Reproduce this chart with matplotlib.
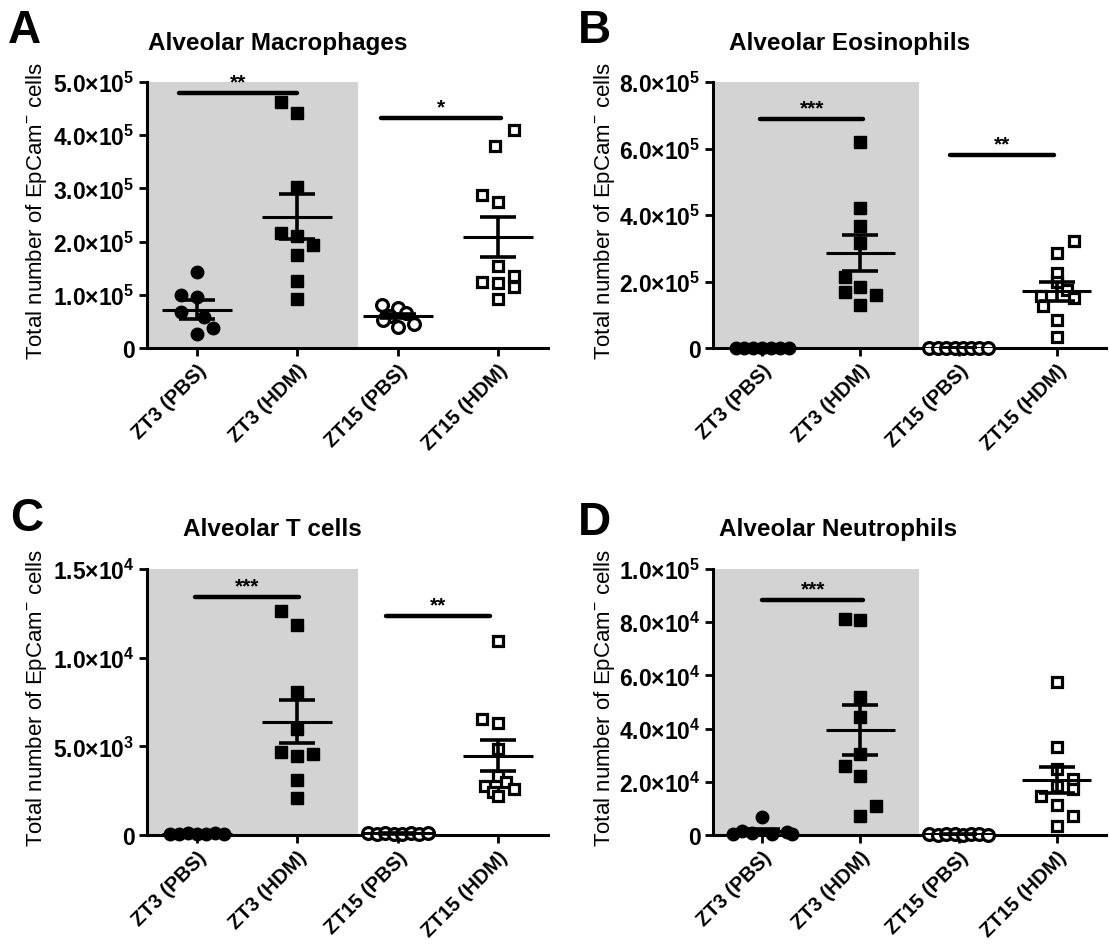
import numpy as np
import matplotlib
matplotlib.use('Agg')
import matplotlib.pyplot as plt
import matplotlib.transforms as mtransforms

plt.rcParams['font.family'] = ['Liberation Sans', 'DejaVu Sans']
plt.rcParams['mathtext.fontset'] = 'custom'
plt.rcParams['mathtext.rm'] = 'Liberation Sans'
plt.rcParams['mathtext.bf'] = 'Liberation Sans:bold'

# Group labels
groups = ['ZT3 (PBS)', 'ZT3 (HDM)', 'ZT15 (PBS)', 'ZT15 (HDM)']

# Panel A - alveolar macrophages (x 1e5)
a_zt3_pbs = [1.43, 1.00, 0.95, 0.67, 0.58, 0.37, 0.26]
a_zt3_hdm = [4.62, 4.42, 3.02, 2.17, 2.10, 1.94, 1.75, 1.26, 0.92]
a_zt15_pbs = [0.80, 0.76, 0.65, 0.60, 0.53, 0.45, 0.40]
a_zt15_hdm = [4.10, 3.80, 2.88, 2.75, 1.55, 1.35, 1.25, 1.23, 1.14, 0.92]
a_mean = [0.72, 2.47, 0.60, 2.09]
a_sem = [0.18, 0.43, 0.04, 0.375]

# Panel B - alveolar eosinophils (x 1e5)
b_zt3_pbs = [0.008, 0.004, 0.006, 0.003, 0.005, 0.007, 0.004]
b_zt3_hdm = [6.21, 4.20, 3.66, 3.16, 2.13, 1.83, 1.68, 1.60, 1.30]
b_zt15_pbs = [0.005, 0.003, 0.006, 0.004, 0.002, 0.005, 0.004, 0.003]
b_zt15_hdm = [3.21, 2.86, 2.25, 1.98, 1.73, 1.56, 1.50, 1.26, 0.83, 0.34]
b_mean = [0.005, 2.86, 0.004, 1.71]
b_sem = [0.001, 0.54, 0.001, 0.29]

# Panel C - alveolar T cells (x 1e3)
c_zt3_pbs = [0.08, 0.05, 0.10, 0.04, 0.06, 0.09, 0.07]
c_zt3_hdm = [12.62, 11.86, 8.08, 5.98, 4.70, 4.57, 4.47, 3.12, 2.07]
c_zt15_pbs = [0.10, 0.06, 0.12, 0.08, 0.05, 0.09, 0.07, 0.11]
c_zt15_hdm = [10.96, 6.54, 6.32, 4.85, 3.34, 3.00, 2.78, 2.59, 2.40, 2.18]
c_mean = [0.07, 6.39, 0.09, 4.47]
c_sem = [0.01, 1.22, 0.01, 0.88]

# Panel D - alveolar neutrophils (x 1e4)
d_zt3_pbs = [0.67, 0.15, 0.10, 0.06, 0.04, 0.03, 0.02]
d_zt3_hdm = [8.12, 8.09, 5.18, 4.42, 3.05, 2.58, 2.23, 1.08, 0.73]
d_zt15_pbs = [0.02, 0.01, 0.03, 0.02, 0.01, 0.02, 0.03, 0.01]
d_zt15_hdm = [5.74, 3.30, 2.48, 2.10, 1.85, 1.73, 1.45, 1.13, 0.70, 0.35]
d_mean = [0.15, 3.95, 0.02, 2.08]
d_sem = [0.09, 0.94, 0.005, 0.49]

# significance bars: (x start, x end, height, stars)
a_sig = [(-0.18, 1.0, 4.79, '**'), (1.83, 3.03, 4.32, '*')]
b_sig = [(-0.02, 1.03, 6.9, '***'), (1.91, 2.97, 5.81, '**')]
c_sig = [(-0.02, 1.02, 13.4, '***'), (1.88, 2.92, 12.37, '**')]
d_sig = [(0.0, 1.03, 8.85, '***')]

# horizontal spread of points within a group (layout only)
a_off = [[0, -0.16, 0, -0.16, 0.07, 0.16, 0],
         [-0.16, 0, 0, -0.16, 0, 0.16, 0, 0, 0],
         [-0.16, 0, 0.08, -0.08, -0.15, 0.16, 0],
         [0.16, -0.03, -0.16, 0, 0, 0.16, -0.16, 0, 0.16, 0]]
b_off = [[-0.27, -0.18, -0.09, 0, 0.09, 0.18, 0.27],
         [0, 0, 0, 0, -0.16, 0, -0.16, 0.16, 0],
         [-0.3, -0.21, -0.13, -0.04, 0.04, 0.13, 0.21, 0.3],
         [0.17, 0, 0, 0, 0.1, -0.16, 0.17, -0.14, 0, 0]]
c_off = [[-0.27, -0.18, -0.09, 0, 0.09, 0.18, 0.27],
         [-0.16, 0, 0, 0, -0.16, 0.16, 0, 0, 0],
         [-0.3, -0.21, -0.13, -0.04, 0.04, 0.13, 0.21, 0.3],
         [0, -0.16, 0, 0, 0, 0.08, -0.13, 0.16, -0.05, 0]]
d_off = [[0, -0.2, 0.25, -0.1, 0.1, -0.3, 0.3],
         [-0.16, 0, 0, 0, 0, -0.16, 0, 0.16, 0],
         [-0.3, -0.21, -0.13, -0.04, 0.04, 0.13, 0.21, 0.3],
         [0, 0, 0, 0.16, 0, 0.16, -0.16, 0, 0.16, 0]]

W, H = 1109, 945
fig = plt.figure(figsize=(W / 100, H / 100), dpi=100)


def fmt_tick(v):
    if v == 0:
        return '0'
    e = int(np.floor(np.log10(v) + 1e-9))
    m = v / 10 ** e
    return '%.1f\u00d710$^{\\mathbf{%d}}$' % (m, e)


def panel(rect, data, means, sems, offs, sig, scale, ymax, step):
    ax = fig.add_axes(rect)
    ax.axvspan(-0.5, 1.6, color='#d3d3d3', zorder=0, lw=0)
    styles = [dict(marker='o', mfc='black', mec='black', ms=9, mew=1),
              dict(marker='s', mfc='black', mec='black', ms=8, mew=1),
              dict(marker='o', mfc='white', mec='black', ms=8.5, mew=2.3),
              dict(marker='s', mfc='white', mec='black', ms=7.5, mew=2.3)]
    for i, vals in enumerate(data):
        x = [i + o for o in offs[i]]
        y = [v * scale for v in vals]
        ax.plot(x, y, ls='none', clip_on=False, zorder=3, **styles[i])
        m = means[i] * scale
        s = sems[i] * scale
        ax.hlines(m, i - 0.35, i + 0.35, color='black', lw=2.2, zorder=4)
        ax.errorbar(i, m, yerr=s, color='black', lw=2.6, capsize=13,
                    capthick=2.6, zorder=4)
    for x0, x1, h, stars in sig:
        ax.plot([x0, x1], [h * scale, h * scale], color='black', lw=3.2,
                solid_capstyle='round', zorder=4)
        ax.text((x0 + x1) / 2, h * scale + ymax * 0.006, stars, ha='center',
                va='bottom', fontsize=15, fontweight='bold')
    ax.set_xlim(-0.5, 3.5)
    ax.set_ylim(0, ymax)
    ticks = np.arange(0, ymax + step / 2, step)
    ax.set_yticks(ticks)
    ax.set_yticklabels([fmt_tick(t) for t in ticks], fontsize=16.5,
                       fontweight='bold')
    ax.set_xticks(range(4))
    ax.set_xticklabels(groups, rotation=45, ha='right', rotation_mode='anchor',
                       fontsize=14.5, fontweight='bold')
    shift = mtransforms.ScaledTranslation(9 / 100, 6 / 100, fig.dpi_scale_trans)
    for lab in ax.get_xticklabels():
        lab.set_transform(lab.get_transform() + shift)
    for sp in ['top', 'right']:
        ax.spines[sp].set_visible(False)
    for sp in ['left', 'bottom']:
        ax.spines[sp].set_linewidth(2.2)
    ax.tick_params(length=6, width=2, pad=3)
    ax.set_ylabel('Total number of EpCam$^{\\mathrm{-}}$ cells', fontsize=16)
    ax.yaxis.set_label_coords(-0.245, 0.52)
    return ax


def rect(l, t, r, b):
    return [l / W, 1 - b / H, (r - l) / W, (b - t) / H]


panel(rect(147, 83, 548, 349), [a_zt3_pbs, a_zt3_hdm, a_zt15_pbs, a_zt15_hdm],
      a_mean, a_sem, a_off, a_sig, 1e5, 5e5, 1e5)
panel(rect(713, 83, 1106, 349), [b_zt3_pbs, b_zt3_hdm, b_zt15_pbs, b_zt15_hdm],
      b_mean, b_sem, b_off, b_sig, 1e5, 8e5, 2e5)
panel(rect(147, 570, 548, 836), [c_zt3_pbs, c_zt3_hdm, c_zt15_pbs, c_zt15_hdm],
      c_mean, c_sem, c_off, c_sig, 1e3, 1.5e4, 5e3)
panel(rect(713, 570, 1106, 836), [d_zt3_pbs, d_zt3_hdm, d_zt15_pbs, d_zt15_hdm],
      d_mean, d_sem, d_off, d_sig, 1e4, 1e5, 2e4)

# titles and panel letters
fig.text(278 / W, 1 - 50 / H, 'Alveolar Macrophages', ha='center', va='baseline',
         fontsize=17.5, fontweight='bold')
fig.text(850 / W, 1 - 50 / H, 'Alveolar Eosinophils', ha='center', va='baseline',
         fontsize=17.5, fontweight='bold')
fig.text(272 / W, 1 - 536 / H, 'Alveolar T cells', ha='center', va='baseline',
         fontsize=17.5, fontweight='bold')
fig.text(838 / W, 1 - 536 / H, 'Alveolar Neutrophils', ha='center', va='baseline',
         fontsize=17.5, fontweight='bold')
fig.text(8 / W, 1 - 43 / H, 'A', fontsize=33, fontweight='bold', va='baseline')
fig.text(578 / W, 1 - 43 / H, 'B', fontsize=33, fontweight='bold', va='baseline')
fig.text(10 / W, 1 - 531 / H, 'C', fontsize=33, fontweight='bold', va='baseline')
fig.text(578 / W, 1 - 535 / H, 'D', fontsize=33, fontweight='bold', va='baseline')

fig.savefig('out.png', dpi=100)
